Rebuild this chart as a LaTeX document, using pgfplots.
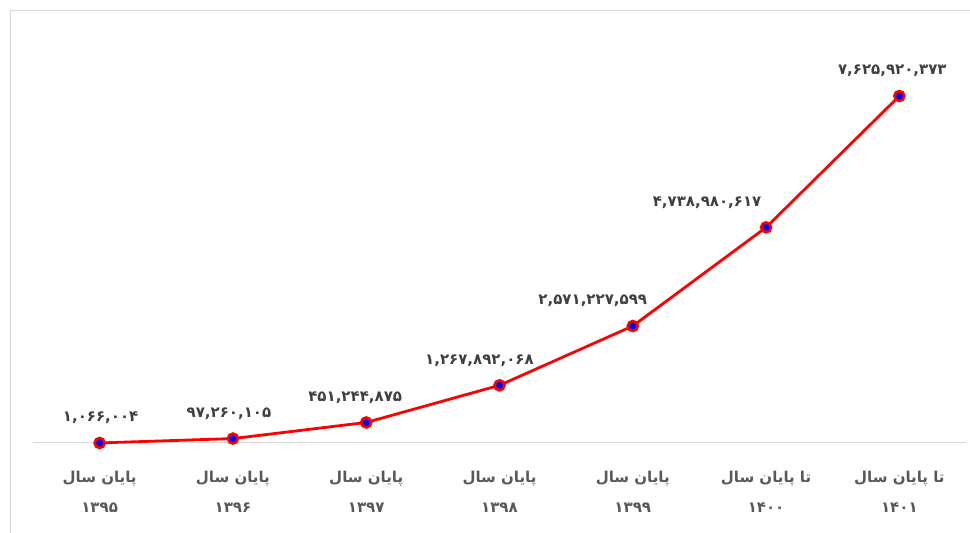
\documentclass[border=0pt]{standalone}
\usepackage{fontspec}
\usepackage{pgfplots}
\usepackage{pgfplotstable}
\pgfplotsset{compat=1.18}
\TeXXeTstate=1
\newfontfamily\arabicfont[Script=Arabic]{DejaVu Sans}
\definecolor{lbl}{HTML}{404040}
\definecolor{axl}{HTML}{595959}
\definecolor{grid}{HTML}{D9D9D9}
\pgfplotstableread{
x y dx label
0 1066004 1 ۱,۰۶۶,۰۰۴
1 97260105 -4 ۹۷,۲۶۰,۱۰۵
2 451244875 -11 ۴۵۱,۲۴۴,۸۷۵
3 1267892068 -20 ۱,۲۶۷,۸۹۲,۰۶۸
4 2571227599 -40 ۲,۵۷۱,۲۲۷,۵۹۹
5 4738980617 -59 ۴,۷۳۸,۹۸۰,۶۱۷
6 7625920373 -7 ۷,۶۲۵,۹۲۰,۳۷۳
}\datatable
\begin{document}
\begin{tikzpicture}
\useasboundingbox (0,0) rectangle (970pt,533pt);
\draw[grid, line width=1pt] (10pt,0) -- (10pt,522pt) -- (970pt,522pt);
\begin{axis}[
  at={(33pt,90pt)}, anchor=south west,
  scale only axis, width=933pt, height=409.5pt,
  xmin=-0.5, xmax=6.5, ymin=0, ymax=9000000000,
  axis y line=none,
  axis x line*=bottom,
  x axis line style={-, draw=grid, line width=1pt},
  major tick length=0pt,
  xtick={0,1,2,3,4,5,6},
  xticklabels={
    {\beginR پایان سال\endR\\۱۳۹۵},
    {\beginR پایان سال\endR\\۱۳۹۶},
    {\beginR پایان سال\endR\\۱۳۹۷},
    {\beginR پایان سال\endR\\۱۳۹۸},
    {\beginR پایان سال\endR\\۱۳۹۹},
    {\beginR تا پایان سال\endR\\۱۴۰۰},
    {\beginR تا پایان سال\endR\\۱۴۰۱}},
  xticklabel style={align=center, font=\arabicfont\bfseries\fontsize{15}{30}\selectfont, text=axl, yshift=-25pt},
  clip=false,
]
\addplot[red, line width=2.8pt,
  mark=*, mark options={fill=blue, draw=red, line width=2.6pt},
  mark size=5pt,
  point meta=explicit symbolic,
  visualization depends on={\thisrow{dx} \as \dx},
  nodes near coords,
  every node near coord/.append style={anchor=center, xshift=\dx pt, yshift=25pt,
     font=\arabicfont\bfseries\fontsize{15}{17}\selectfont, text=lbl}
] table[x=x, y=y, meta=label] {\datatable};
\end{axis}
\end{tikzpicture}
\end{document}
